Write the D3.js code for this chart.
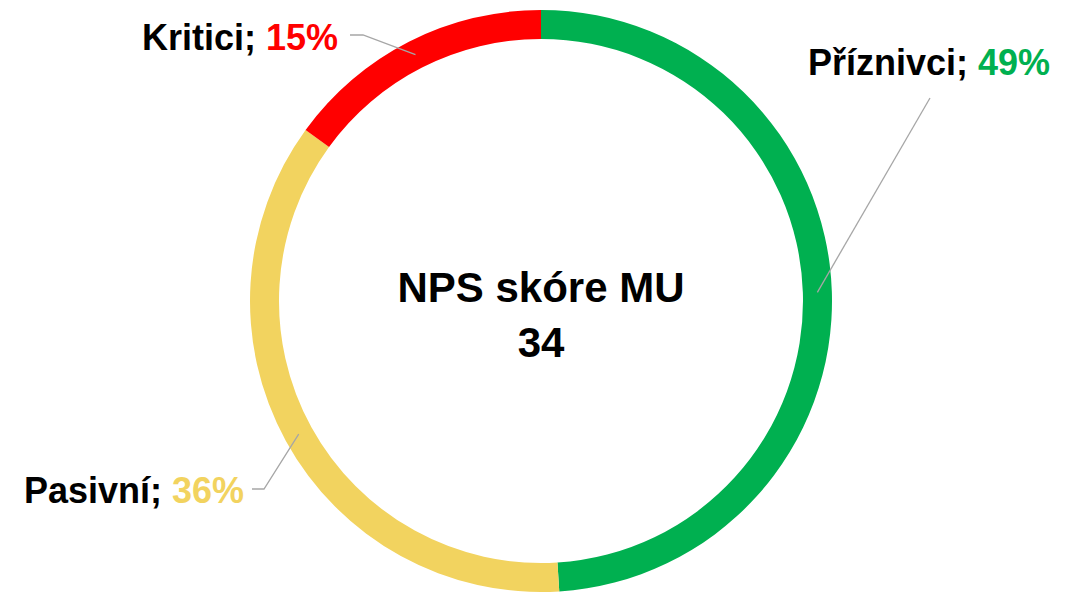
<!DOCTYPE html>
<html lang="cs">
  <head>
    <meta charset="UTF-8" />
    <title>NPS skóre MU</title>
    <style>
      body {
        margin: 0;
        background-color: #fff;
      }
      svg {
        display: block;
      }
      .label {
        font-family: "Liberation Sans", Arial, sans-serif;
        font-weight: bold;
        font-size: 36px;
      }
      .center {
        font-family: "Liberation Sans", Arial, sans-serif;
        font-weight: bold;
        font-size: 42px;
        fill: #000;
      }
      .leader {
        stroke: #a6a6a6;
        stroke-width: 1.3px;
        fill: none;
      }
    </style>
  </head>
  <body>
    <svg id="chart"></svg>

    <script src="https://d3js.org/d3.v7.min.js"></script>
    <script>
      const width = 1081;
      const height = 594;

      // data
      const categories = ["Příznivci", "Pasivní", "Kritici"];
      const shares = [49, 36, 15];
      const colors = ["#00b050", "#f2d35f", "#ff0000"];
      const centerTitle = "NPS skóre MU";
      const centerValue = "34";

      const cx = 541;
      const cy = 301;
      const outerR = 291;
      const innerR = 262;

      // label layout: left x, baseline, leader start points
      const labelPos = [
        { x: 808, y: 75, lead: [[930, 98]] },
        { x: 24, y: 503, lead: [[252, 489], [264, 489]] },
        { x: 142, y: 50, lead: [[350, 35], [363, 35]] },
      ];

      const svg = d3
        .select("#chart")
        .attr("width", width)
        .attr("height", height)
        .attr("viewBox", `0 0 ${width} ${height}`);

      const data = categories.map((c, i) => ({ name: c, value: shares[i], color: colors[i] }));

      const pie = d3.pie().value((d) => d.value).sort(null);
      const arc = d3.arc().innerRadius(innerR).outerRadius(outerR);
      const midR = (innerR + outerR) / 2;
      const midArc = d3.arc().innerRadius(midR).outerRadius(midR);

      const arcs = pie(data);

      const g = svg.append("g").attr("transform", `translate(${cx},${cy})`);

      g.selectAll("path.slice")
        .data(arcs)
        .join("path")
        .attr("class", "slice")
        .attr("d", arc)
        .attr("fill", (d) => d.data.color);

      // leader lines
      svg
        .selectAll("path.leader")
        .data(arcs)
        .join("path")
        .attr("class", "leader")
        .attr("d", (d, i) => {
          const c = midArc.centroid(d);
          const pts = labelPos[i].lead.concat([[cx + c[0], cy + c[1]]]);
          return d3.line()(pts);
        });

      // labels: category name (black) then share (slice colour)
      const names = svg
        .selectAll("text.name")
        .data(arcs)
        .join("text")
        .attr("class", "label name")
        .attr("x", (d, i) => labelPos[i].x)
        .attr("y", (d, i) => labelPos[i].y)
        .attr("fill", "#000")
        .text((d) => d.data.name + ";");

      const nameWidths = names.nodes().map((n) => n.getComputedTextLength());

      svg
        .selectAll("text.val")
        .data(arcs)
        .join("text")
        .attr("class", "label val")
        .attr("x", (d, i) => labelPos[i].x + nameWidths[i] + 10)
        .attr("y", (d, i) => labelPos[i].y)
        .attr("fill", (d) => d.data.color)
        .text((d) => d.data.value + "%");

      // centre text
      svg
        .append("text")
        .attr("class", "center")
        .attr("x", cx)
        .attr("y", 302)
        .attr("text-anchor", "middle")
        .text(centerTitle);

      svg
        .append("text")
        .attr("class", "center")
        .attr("x", cx)
        .attr("y", 357)
        .attr("text-anchor", "middle")
        .text(centerValue);
    </script>
  </body>
</html>
